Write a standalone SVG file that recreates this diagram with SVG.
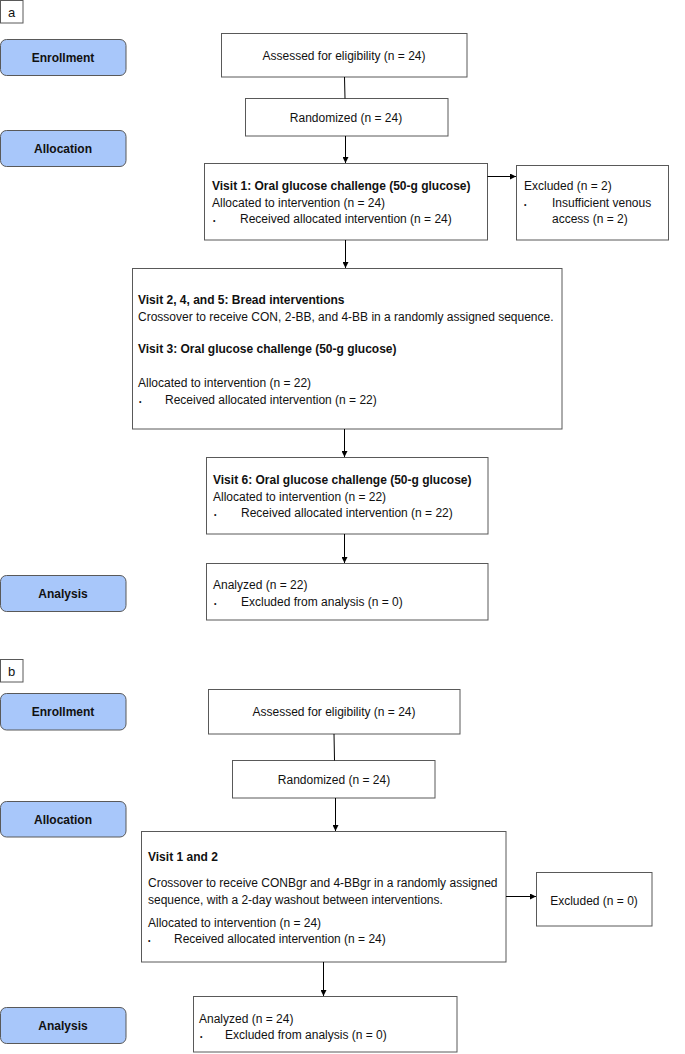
<svg xmlns="http://www.w3.org/2000/svg" width="685" height="1054" viewBox="0 0 685 1054">
<defs>
<marker id="ah" viewBox="0 0 8 8" refX="8" refY="4" markerWidth="6" markerHeight="6" orient="auto" markerUnits="userSpaceOnUse">
<path d="M0,0 L8,4 L0,8 Z" fill="#000"/>
</marker>
<style>
.box{fill:#fff;stroke:#595959;stroke-width:1}
.lab{fill:#a8c7fa;stroke:#595959;stroke-width:1}
.t{font-family:"Liberation Sans",Arial,sans-serif;font-size:12px;fill:#111}
.b{font-weight:bold}
.m{text-anchor:middle}
.u{font-family:"Liberation Sans",Arial,sans-serif;font-size:7px;fill:#111}
.c{stroke:#000;stroke-width:1;fill:none}
</style>
</defs>
<rect width="685" height="1054" fill="#fff"/>

<!-- Part a -->
<g id="label-a"><rect class="box" x="0.5" y="0.5" width="22.5" height="22.5"/><text class="t m" x="11.5" y="16.5" style="font-size:13px">a</text></g>
<g id="a-enrollment"><rect class="lab" x="0.5" y="39.5" width="125.5" height="36" rx="6"/><text class="t b m" x="63" y="62">Enrollment</text></g>
<g id="a-allocation"><rect class="lab" x="0.5" y="130.5" width="125.5" height="36" rx="6"/><text class="t b m" x="63" y="153">Allocation</text></g>
<g id="a-analysis"><rect class="lab" x="0.5" y="575.5" width="125.5" height="36" rx="6"/><text class="t b m" x="63" y="598">Analysis</text></g>

<g id="a-assessed"><rect class="box" x="221.5" y="33.5" width="245.5" height="43.5"/><text class="t m" x="344" y="60">Assessed for eligibility (n = 24)</text></g>
<g id="a-randomized"><rect class="box" x="245.5" y="98.5" width="202.5" height="37.5"/><text class="t m" x="346" y="122">Randomized (n = 24)</text></g>
<g id="a-visit1"><rect class="box" x="204.5" y="163.5" width="283" height="76.5"/>
<text class="t b" x="212" y="190">Visit 1: Oral glucose challenge (50-g glucose)</text>
<text class="t" x="212" y="207">Allocated to intervention (n = 24)</text>
<text class="u" x="213" y="223">•</text><text class="t" x="240" y="223">Received allocated intervention (n = 24)</text></g>
<g id="a-excluded"><rect class="box" x="516.5" y="165.5" width="152" height="74.5"/>
<text class="t" x="524" y="190">Excluded (n = 2)</text>
<text class="u" x="524" y="207">•</text><text class="t" x="552" y="207">Insufficient venous</text>
<text class="t" x="552" y="223">access (n = 2)</text></g>
<g id="a-visit245"><rect class="box" x="132.5" y="268.5" width="429.5" height="160.5"/>
<text class="t b" x="138" y="304">Visit 2, 4, and 5: Bread interventions</text>
<text class="t" x="138" y="321">Crossover to receive CON, 2-BB, and 4-BB in a randomly assigned sequence.</text>
<text class="t b" x="138" y="353">Visit 3: Oral glucose challenge (50-g glucose)</text>
<text class="t" x="138" y="387">Allocated to intervention (n = 22)</text>
<text class="u" x="139" y="404">•</text><text class="t" x="165" y="404">Received allocated intervention (n = 22)</text></g>
<g id="a-visit6"><rect class="box" x="206.5" y="457.5" width="281.5" height="76.5"/>
<text class="t b" x="213" y="484">Visit 6: Oral glucose challenge (50-g glucose)</text>
<text class="t" x="213" y="501">Allocated to intervention (n = 22)</text>
<text class="u" x="214" y="517">•</text><text class="t" x="241" y="517">Received allocated intervention (n = 22)</text></g>
<g id="a-analyzed"><rect class="box" x="206.5" y="563.5" width="281.5" height="56.5"/>
<text class="t" x="213" y="589">Analyzed (n = 22)</text>
<text class="u" x="214" y="606">•</text><text class="t" x="241" y="606">Excluded from analysis (n = 0)</text></g>

<!-- Part b -->
<g id="label-b"><rect class="box" x="0.5" y="659.5" width="22.5" height="22.5"/><text class="t m" x="11.5" y="676" style="font-size:13px">b</text></g>
<g id="b-enrollment"><rect class="lab" x="0.5" y="693.5" width="125.5" height="36.5" rx="6"/><text class="t b m" x="63" y="716">Enrollment</text></g>
<g id="b-allocation"><rect class="lab" x="0.5" y="801.5" width="125.5" height="35.5" rx="6"/><text class="t b m" x="63" y="824">Allocation</text></g>
<g id="b-analysis"><rect class="lab" x="0.5" y="1007.5" width="125.5" height="36" rx="6"/><text class="t b m" x="63" y="1030">Analysis</text></g>

<g id="b-assessed"><rect class="box" x="208.5" y="689.5" width="251.5" height="44.5"/><text class="t m" x="334" y="716">Assessed for eligibility (n = 24)</text></g>
<g id="b-randomized"><rect class="box" x="232.5" y="760.5" width="202.5" height="37.5"/><text class="t m" x="334" y="784">Randomized (n = 24)</text></g>
<g id="b-visit12"><rect class="box" x="141.5" y="831.5" width="364.5" height="130.5"/>
<text class="t b" x="148" y="861">Visit 1 and 2</text>
<text class="t" x="148" y="887">Crossover to receive CONBgr and 4-BBgr in a randomly assigned</text>
<text class="t" x="148" y="904">sequence, with a 2-day washout between interventions.</text>
<text class="t" x="148" y="927">Allocated to intervention (n = 24)</text>
<text class="u" x="148" y="943">•</text><text class="t" x="174" y="943">Received allocated intervention (n = 24)</text></g>
<g id="b-excluded"><rect class="box" x="536.5" y="872.5" width="115.5" height="53.5"/><text class="t m" x="594" y="905">Excluded (n = 0)</text></g>
<g id="b-analyzed"><rect class="box" x="193.5" y="996.5" width="263.5" height="55.5"/>
<text class="t" x="199" y="1023">Analyzed (n = 24)</text>
<text class="u" x="200" y="1039">•</text><text class="t" x="225" y="1039">Excluded from analysis (n = 0)</text></g>

<g id="connectors">
<line class="c" x1="344.5" y1="77" x2="345" y2="98.5"/>
<line class="c" x1="345.5" y1="136" x2="345.5" y2="163" marker-end="url(#ah)"/>
<line class="c" x1="487.5" y1="176.5" x2="516" y2="176.5" marker-end="url(#ah)"/>
<line class="c" x1="345.5" y1="240" x2="345.5" y2="268" marker-end="url(#ah)"/>
<line class="c" x1="344.5" y1="429" x2="344.5" y2="457" marker-end="url(#ah)"/>
<line class="c" x1="344.5" y1="534" x2="344.5" y2="563" marker-end="url(#ah)"/>
<line class="c" x1="334" y1="734" x2="334.5" y2="760.5"/>
<line class="c" x1="335.5" y1="798" x2="335.5" y2="831" marker-end="url(#ah)"/>
<line class="c" x1="506" y1="896.5" x2="536" y2="896.5" marker-end="url(#ah)"/>
<line class="c" x1="323.5" y1="962" x2="323.5" y2="996" marker-end="url(#ah)"/>
</g>
</svg>
